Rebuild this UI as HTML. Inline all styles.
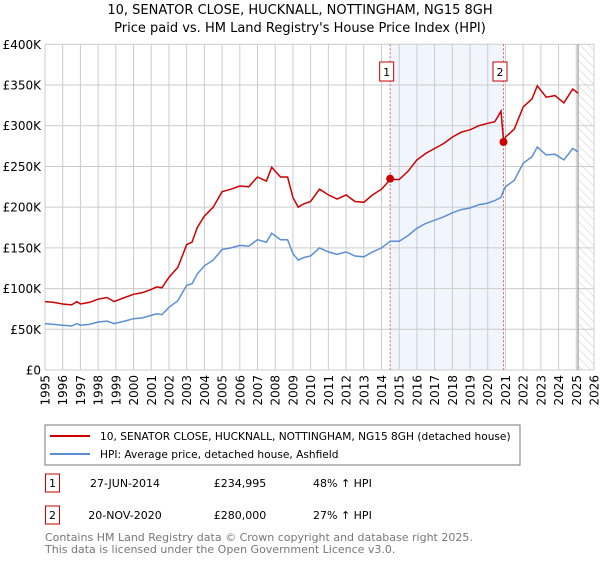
<!DOCTYPE html>
<html><head><meta charset="utf-8"><style>
body{margin:0;background:#fff;font-family:"Liberation Sans","DejaVu Sans",sans-serif;}
svg text{font-family:"DejaVu Sans","Liberation Sans",sans-serif;}
</style></head><body>
<svg id="c" width="600" height="560" xmlns="http://www.w3.org/2000/svg">
<defs><pattern id="hatch" width="6" height="6" patternUnits="userSpaceOnUse" patternTransform="rotate(-45)"><line x1="0" y1="0" x2="0" y2="6" stroke="#ccc" stroke-width="1"/></pattern></defs>
<text x="300" y="14" text-anchor="middle" font-size="13" fill="#000">10, SENATOR CLOSE, HUCKNALL, NOTTINGHAM, NG15 8GH</text>
<text x="300" y="32" text-anchor="middle" font-size="13" fill="#000">Price paid vs. HM Land Registry's House Price Index (HPI)</text>
<g id="plot"></g>
<rect x="45" y="425" width="475" height="40" fill="#fff" stroke="#777"/>
<line x1="50" y1="436" x2="90" y2="436" stroke="#cc0000" stroke-width="2"/>
<text x="100" y="440" font-size="10.6">10, SENATOR CLOSE, HUCKNALL, NOTTINGHAM, NG15 8GH (detached house)</text>
<line x1="50" y1="454" x2="90" y2="454" stroke="#5b8fd4" stroke-width="2"/>
<text x="100" y="458" font-size="10.6">HPI: Average price, detached house, Ashfield</text>
<g>
<rect x="45.5" y="474" width="14" height="18" fill="#fff" stroke="#cc0000"/><text x="52.5" y="487" text-anchor="middle" font-size="11">1</text>
<text x="125" y="487" text-anchor="middle" font-size="11">27-JUN-2014</text>
<text x="240" y="487" text-anchor="middle" font-size="11">£234,995</text>
<text x="313" y="487" font-size="11">48% ↑ HPI</text></g>
<g>
<rect x="45.5" y="506" width="14" height="18" fill="#fff" stroke="#cc0000"/><text x="52.5" y="519" text-anchor="middle" font-size="11">2</text>
<text x="125" y="519" text-anchor="middle" font-size="11">20-NOV-2020</text>
<text x="240" y="519" text-anchor="middle" font-size="11">£280,000</text>
<text x="313" y="519" font-size="11">27% ↑ HPI</text></g>
<text x="45" y="541" font-size="11" fill="#777">Contains HM Land Registry data © Crown copyright and database right 2025.</text>
<text x="45" y="553" font-size="11" fill="#777">This data is licensed under the Open Government Licence v3.0.</text>
</svg>
<script>
const times=[1995,1995.5,1996,1996.5,1996.8,1997,1997.5,1998,1998.5,1998.9,1999.5,2000,2000.5,2001,2001.3,2001.6,2002,2002.5,2003,2003.3,2003.6,2004,2004.5,2005,2005.5,2006,2006.5,2007,2007.5,2007.8,2008.3,2008.7,2009,2009.3,2009.6,2010,2010.5,2011,2011.5,2012,2012.5,2013,2013.5,2014,2014.5,2015,2015.5,2016,2016.5,2017,2017.5,2018,2018.5,2019,2019.5,2020,2020.4,2020.75,2020.9,2021,2021.5,2022,2022.5,2022.8,2023.3,2023.8,2024.3,2024.8,2025.1];
const hpi=[57,56,55,54,57,55,56,59,60,57,60,63,64,67,69,68,77,85,104,106,118,128,135,148,150,153,152,160,157,168,160,160,143,135,138,140,150,145,142,145,140,139,145,150,158,158,165,174,180,184,188,193,197,199,203,205,208,212,221,225,233,254,262,274,264,265,258,272,268];
const price=[84,83,81,80,84,81,83,87,89,84,89,93,95,99,102,101,114,126,154,157,175,189,200,219,222,226,225,237,232,249,237,237,212,200,204,207,222,215,210,215,207,206,215,222,234,234,244,258,266,272,278,286,292,295,300,303,305,318,280,286,296,323,333,349,335,337,328,345,340];
const yTicks=[0,50,100,150,200,250,300,350,400];
const yLabels=["£0","£50K","£100K","£150K","£200K","£250K","£300K","£350K","£400K"];
const years=[1995,1996,1997,1998,1999,2000,2001,2002,2003,2004,2005,2006,2007,2008,2009,2010,2011,2012,2013,2014,2015,2016,2017,2018,2019,2020,2021,2022,2023,2024,2025,2026];
const sales=[{t:2014.49,v:234.995,n:"1"},{t:2020.89,v:280,n:"2"}];
const X0=45,X1=594,Y0=370,Y1=44.3;
const xs=t=>X0+(t-1995)/31*(X1-X0);
const ys=v=>Y0-v/400*(Y0-Y1);
const NS="http://www.w3.org/2000/svg";
const g=document.getElementById('plot');
function mk(tag,at,parent){const e=document.createElementNS(NS,tag);for(const k in at)e.setAttribute(k,at[k]);(parent||g).appendChild(e);return e;}
let e;
e=mk('rect',{x:xs(sales[0].t),y:Y1,width:xs(sales[1].t)-xs(sales[0].t),height:Y0-Y1,fill:'#eef3fd',opacity:0.8});


e=mk('rect',{x:xs(2025.1),y:Y1,width:X1-xs(2025.1),height:Y0-Y1,fill:'url(#hatch)'});


years.forEach(y=>{const x=xs(y);
 e=mk('line',{x1:x,x2:x,y1:Y1,y2:Y0,stroke:'#ccc','stroke-width':1});
 
 
 e=mk('text',{x:0,y:0,transform:`translate(${x+4.5},${Y0+5}) rotate(-90)`,'text-anchor':'end','font-size':12,fill:'#000'});
 e.textContent=y;
 
 
});
yTicks.forEach((v,i)=>{const y=ys(v);
 e=mk('line',{x1:X0,x2:X1,y1:y,y2:y,stroke:'#ccc','stroke-width':1});
 
 
 e=mk('text',{x:X0-4,y:y+4.5,'text-anchor':'end','font-size':12,fill:'#000'});
 e.textContent=yLabels[i];
 
 
});
e=mk('line',{x1:xs(2025.1),x2:xs(2025.1),y1:Y1,y2:Y0,stroke:'#888','stroke-width':1});


sales.forEach(s=>{const x=xs(s.t);
 e=mk('line',{x1:x,x2:x,y1:Y1,y2:Y0,stroke:'#e06060','stroke-width':1,'stroke-dasharray':'2,2'});
 
 
});
function path(vals,col,name){const d=times.map((t,i)=>(i?'L':'M')+xs(t).toFixed(1)+','+ys(vals[i]).toFixed(1)).join('');
 e=mk('path',{d:d,fill:'none',stroke:col,'stroke-width':1.5});
 
 }
path(hpi,'#5b8fd4','hpi-line');
path(price,'#cc0000','price-paid-line');
sales.forEach(s=>{
 e=mk('circle',{cx:xs(s.t),cy:ys(s.v),r:4,fill:'#cc0000'});
 
 
 const bx=xs(s.t)-3.5;
 e=mk('rect',{x:bx-7,y:62,width:14,height:19,fill:'#fff',stroke:'#cc0000'});
 
 
 e=mk('text',{x:bx,y:76,'text-anchor':'middle','font-size':11});
 e.textContent=s.n;
 
 
});
</script>
</body></html>
